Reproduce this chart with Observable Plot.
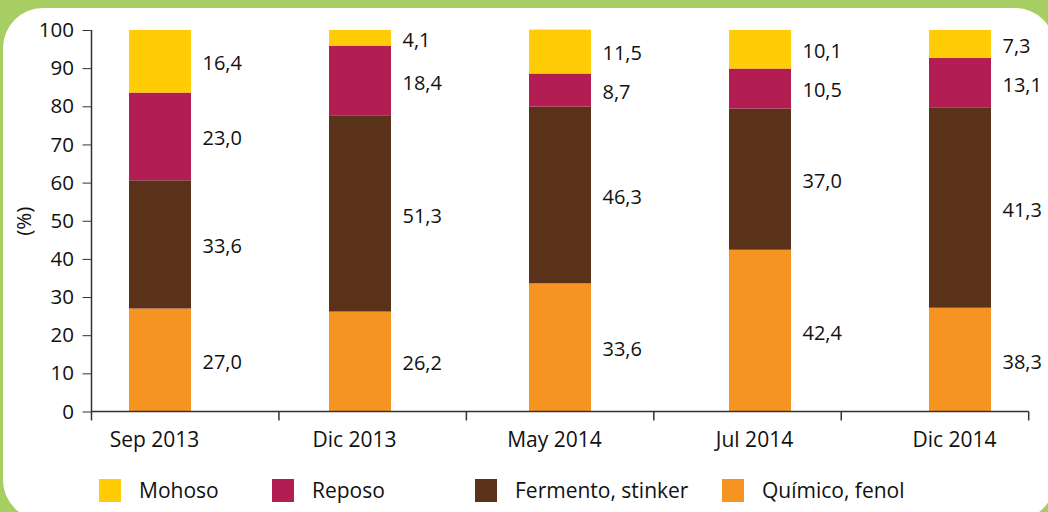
<!DOCTYPE html>
<html>
<head>
<meta charset="utf-8">
<script src="https://cdn.jsdelivr.net/npm/d3@7"></script>
<script src="https://cdn.jsdelivr.net/npm/@observablehq/plot@0.6"></script>
<style>
  html, body { margin: 0; padding: 0; }
  body { width: 1048px; height: 512px; overflow: hidden; background: #a6ce63; position: relative;
         font-family: "Open Sans", sans-serif; color: #111; }
  #panel { position: absolute; left: 3px; top: 8px; width: 1052px; height: 512px; border-radius: 40px; background: #ffffff; }
  #chart { position: absolute; left: 0; top: 0; }
  #legend { position: absolute; left: 99px; top: 479px; display: flex; align-items: center; }
  .item { display: flex; align-items: center; font-size: 21px; line-height: 23px; }
  .sw { width: 22px; height: 23px; margin-right: 18px; flex: none; }
</style>
</head>
<body>
<div id="panel"></div>
<div id="chart"></div>
<div id="legend"></div>
<script>
// ---- data ----
const categories = ["Sep 2013", "Dic 2013", "May 2014", "Jul 2014", "Dic 2014"];
const seriesNames = ["Químico, fenol", "Fermento, stinker", "Reposo", "Mohoso"]; // bottom → top
const legendOrder = ["Mohoso", "Reposo", "Fermento, stinker", "Químico, fenol"];

const quimico  = [27.0, 26.2, 33.6, 42.4, 27.2];
const fermento = [33.6, 51.3, 46.3, 37.0, 52.4];
const reposo   = [23.0, 18.4, 8.7, 10.5, 13.1];
const mohoso   = [16.4, 4.1, 11.5, 10.1, 7.3];

const quimicoLabels  = ["27,0", "26,2", "33,6", "42,4", "38,3"];
const fermentoLabels = ["33,6", "51,3", "46,3", "37,0", "41,3"];
const reposoLabels   = ["23,0", "18,4", "8,7", "10,5", "13,1"];
const mohosoLabels   = ["16,4", "4,1", "11,5", "10,1", "7,3"];

const yTicks = [0, 10, 20, 30, 40, 50, 60, 70, 80, 90, 100];

const colors = {
  "Mohoso": "#ffcc05",
  "Reposo": "#b21e51",
  "Fermento, stinker": "#5a3119",
  "Químico, fenol": "#f59420"
};

// ---- table ----
const valueSets = [quimico, fermento, reposo, mohoso];
const labelSets = [quimicoLabels, fermentoLabels, reposoLabels, mohosoLabels];
const data = [];
seriesNames.forEach((s, si) => {
  categories.forEach((c, ci) => {
    data.push({date: c, series: s, value: valueSets[si][ci], label: labelSets[si][ci]});
  });
});

// axis lines + category boundary ticks (Excel-style), derived from plot dimensions
function axisFrame(n) {
  return (...args) => {
    const dims = args.find(a => a && a.marginLeft !== undefined && a.width !== undefined);
    const {marginLeft, marginRight, marginTop, marginBottom, width, height} = dims;
    const g = d3.create("svg:g").attr("stroke", "#333").attr("stroke-width", 1.5);
    const y0 = height - marginBottom;
    const x0 = marginLeft, x1 = width - marginRight;
    g.append("line").attr("x1", x0).attr("x2", x0).attr("y1", marginTop).attr("y2", y0);
    g.append("line").attr("x1", x0).attr("x2", x1).attr("y1", y0).attr("y2", y0);
    const step = (x1 - x0) / n;
    for (let i = 0; i <= n; i++) {
      const x = x0 + i * step;
      g.append("line").attr("x1", x).attr("x2", x).attr("y1", y0).attr("y2", y0 + 9);
    }
    return g.node();
  };
}

const chart = Plot.plot({
  width: 1048,
  height: 460,
  marginTop: 30,
  marginBottom: 48.5,
  marginLeft: 91.5,
  marginRight: 19.3,
  style: {fontFamily: "'Open Sans', sans-serif", color: "#111", background: "transparent", overflow: "visible"},
  x: {domain: categories, paddingInner: 0.692, paddingOuter: 0.1875, align: 0.5},
  y: {domain: [0, 100]},
  color: {domain: Object.keys(colors), range: Object.values(colors)},
  marks: [
    Plot.barY(data, {x: "date", y: "value", fill: "series"}),
    Plot.text(data, Plot.stackY({x: "date", y: "value", text: "label", textAnchor: "start",
      dx: 42, dy: 2, fontSize: 20, fill: "#111"})),
    Plot.axisY({ticks: yTicks, tickSize: 9, tickPadding: 9, fontSize: 20.5, stroke: "#333",
      label: "(%)", labelAnchor: "center", labelArrow: "none", labelOffset: 76}),
    Plot.axisX({tickSize: 0, tickPadding: 20, fontSize: 21, label: null, dx: -6}),
    axisFrame(categories.length)
  ]
});
document.getElementById("chart").appendChild(chart);

// ---- legend ----
const itemWidths = [173, 203, 247, 200];
const legend = document.getElementById("legend");
legendOrder.forEach((name, i) => {
  const item = document.createElement("div");
  item.className = "item";
  item.style.width = itemWidths[i] + "px";
  const sw = document.createElement("span");
  sw.className = "sw";
  sw.style.background = colors[name];
  const t = document.createElement("span");
  t.textContent = name;
  item.appendChild(sw);
  item.appendChild(t);
  legend.appendChild(item);
});
</script>
</body>
</html>
